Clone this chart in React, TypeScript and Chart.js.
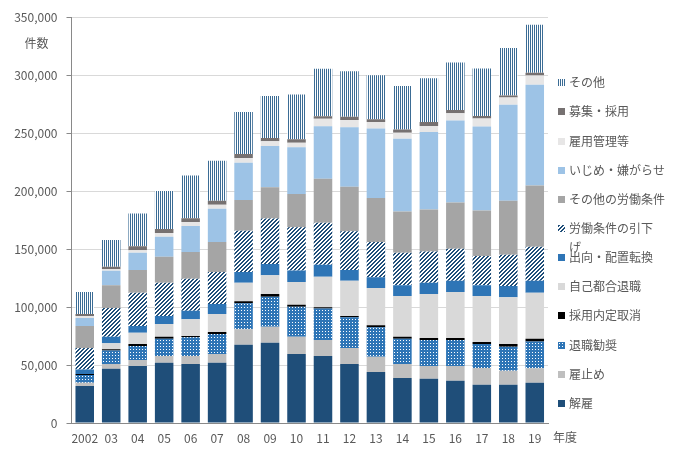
import React, { useEffect, useRef } from 'react';
import { Chart, registerables } from 'chart.js';

Chart.register(...registerables);

const years = ['2002', '03', '04', '05', '06', '07', '08', '09', '10', '11', '12', '13', '14', '15', '16', '17', '18', '19'];

const kaiko = [31900, 46800, 49100, 52000, 50900, 52000, 67500, 69200, 59500, 57800, 50900, 44000, 38800, 38200, 36500, 33000, 33000, 34700];
const yatoidome = [2900, 4100, 5200, 5800, 6900, 7500, 13300, 13800, 14900, 13800, 13800, 13200, 12100, 10900, 12600, 14400, 12100, 12600];
const taishokuKansho = [6600, 11500, 12100, 14900, 16100, 17200, 22400, 25900, 25900, 27000, 26400, 25300, 21800, 22400, 22400, 20700, 20700, 23000];
const naiteiTorikeshi = [800, 1100, 1700, 1700, 1100, 1700, 1700, 2300, 1700, 1100, 1100, 1700, 1700, 1700, 1700, 1700, 2300, 2300];
const jikoTsugo = [0, 5200, 9800, 10900, 14400, 15500, 16100, 16100, 19600, 26400, 30500, 32200, 35100, 37900, 39700, 39700, 40200, 39700];
const shukko = [4000, 5700, 5700, 6900, 7400, 8600, 9200, 9800, 9800, 10300, 9200, 9200, 9200, 9800, 9800, 9200, 9800, 10300];
const hikisage = [18400, 24700, 28700, 28700, 27600, 27600, 35600, 39100, 37400, 36200, 33300, 30500, 28100, 27000, 27600, 25300, 27000, 29300];
const sonotaRodo = [19000, 19600, 19500, 22400, 23000, 25900, 26400, 27000, 28700, 37900, 38500, 37900, 35600, 36200, 39700, 39100, 46500, 52900];
const ijime = [6900, 12600, 14900, 17200, 22400, 28700, 32200, 35600, 40200, 45400, 51200, 59800, 62600, 66700, 70700, 72400, 82800, 86700];
const koyoKanri = [1700, 1200, 2300, 3400, 3400, 3400, 4000, 4000, 4000, 6300, 6300, 5700, 5200, 5200, 6300, 6900, 6300, 8100];
const boshu = [1700, 2300, 3400, 3400, 3400, 3400, 3400, 2900, 2900, 2300, 2900, 2300, 2900, 3400, 2900, 2300, 1700, 2300];
const sonota = [19000, 23000, 28200, 32800, 36800, 34500, 36200, 36200, 38500, 40800, 39100, 37900, 37400, 37900, 40800, 40800, 40800, 41400];

const yTicksMax = 350000;
const yTickStep = 50000;

const FONT = '"Noto Sans CJK JP", "Noto Sans", sans-serif';
const TEXT = '#595959';

function makePattern(w: number, h: number, draw: (c: CanvasRenderingContext2D) => void) {
  const c = document.createElement('canvas');
  c.width = w;
  c.height = h;
  const ctx = c.getContext('2d')!;
  draw(ctx);
  return ctx.createPattern(c, 'repeat')!;
}

const legendLines: Record<string, string[]> = {
  '労働条件の引下げ': ['労働条件の引下', 'げ'],
};

export default function App() {
  const ref = useRef<HTMLCanvasElement>(null);

  useEffect(() => {
    const vStripe = makePattern(2, 1, (c) => {
      c.fillStyle = '#ffffff';
      c.fillRect(0, 0, 2, 1);
      c.fillStyle = '#3b6c95';
      c.fillRect(0, 0, 1, 1);
    });
    const diag = makePattern(4, 4, (c) => {
      c.fillStyle = '#ffffff';
      c.fillRect(0, 0, 4, 4);
      c.fillStyle = '#1f4e79';
      for (let i = 0; i < 4; i++) {
        c.fillRect(i, 3 - i, 1, 1);
        c.fillRect((i + 1) % 4, 3 - i, 1, 1);
      }
    });
    const dots = makePattern(3, 3, (c) => {
      c.fillStyle = '#2e75b6';
      c.fillRect(0, 0, 3, 3);
      c.fillStyle = '#ffffff';
      c.fillRect(1, 1, 1, 1);
    });

    const datasets = [
      { label: '解雇', data: kaiko, backgroundColor: '#1f4e79' },
      { label: '雇止め', data: yatoidome, backgroundColor: '#bfbfbf' },
      { label: '退職勧奨', data: taishokuKansho, backgroundColor: dots },
      { label: '採用内定取消', data: naiteiTorikeshi, backgroundColor: '#000000' },
      { label: '自己都合退職', data: jikoTsugo, backgroundColor: '#d9d9d9' },
      { label: '出向・配置転換', data: shukko, backgroundColor: '#2e75b6' },
      { label: '労働条件の引下げ', data: hikisage, backgroundColor: diag },
      { label: 'その他の労働条件', data: sonotaRodo, backgroundColor: '#a5a5a5' },
      { label: 'いじめ・嫌がらせ', data: ijime, backgroundColor: '#9dc3e6' },
      { label: '雇用管理等', data: koyoKanri, backgroundColor: '#e7e6e6' },
      { label: '募集・採用', data: boshu, backgroundColor: '#767171' },
      { label: 'その他', data: sonota, backgroundColor: vStripe },
    ].map((d) => ({ ...d, borderWidth: 0, barPercentage: 0.7, categoryPercentage: 1 }));

    const extras = {
      id: 'extras',
      afterDraw(chart: any) {
        const { ctx, chartArea } = chart;
        ctx.save();
        ctx.font = `12px ${FONT}`;
        ctx.fillStyle = TEXT;
        ctx.textBaseline = 'middle';
        ctx.textAlign = 'center';
        ctx.fillText('件数', chartArea.left - 35, chartArea.top + 26);
        ctx.textAlign = 'left';
        ctx.fillText('年度', chartArea.right + 5, chartArea.bottom + 14);
        const ds = chart.data.datasets;
        for (let i = 0; i < ds.length; i++) {
          const d = ds[ds.length - 1 - i];
          const y = 82.7 + i * 29.15;
          ctx.fillStyle = d.backgroundColor;
          ctx.fillRect(558, Math.round(y - 3.5), 7, 7);
          ctx.fillStyle = TEXT;
          const lines = legendLines[d.label] || [d.label];
          lines.forEach((t: string, k: number) => ctx.fillText(t, 569, y + k * 18.5));
        }
        ctx.restore();
      },
    };

    const chart = new Chart(ref.current!, {
      type: 'bar',
      data: { labels: years, datasets },
      options: {
        responsive: false,
        animation: false,
        layout: { padding: { left: 0, right: 136, top: 17, bottom: 0 } },
        plugins: {
          legend: { display: false },
          tooltip: { enabled: false },
        },
        scales: {
          x: {
            stacked: true,
            grid: { display: false, drawTicks: false },
            border: { display: true, color: '#898989', width: 1 },
            ticks: { color: TEXT, font: { family: FONT, size: 12 }, padding: 8, maxRotation: 0, autoSkip: false },
            afterFit: (s: any) => { s.height = 34; },
          },
          y: {
            stacked: true,
            min: 0,
            max: yTicksMax,
            grid: { color: '#d9d9d9', tickColor: '#898989', tickLength: 5, drawTicks: true },
            border: { display: true, color: '#898989', width: 1 },
            ticks: {
              stepSize: yTickStep,
              color: TEXT,
              font: { family: FONT, size: 12 },
              padding: 9,
              callback: (v: any) => Number(v).toLocaleString('en-US'),
            },
            afterFit: (s: any) => { s.width = 71.5; },
          },
        },
      },
      plugins: [extras],
    });
    return () => chart.destroy();
  }, []);

  return (
    <div style={{ position: 'absolute', left: 0, top: 0, width: 684, height: 457, background: '#fff' }}>
      <canvas ref={ref} width={684} height={457} style={{ display: 'block' }} />
    </div>
  );
}
